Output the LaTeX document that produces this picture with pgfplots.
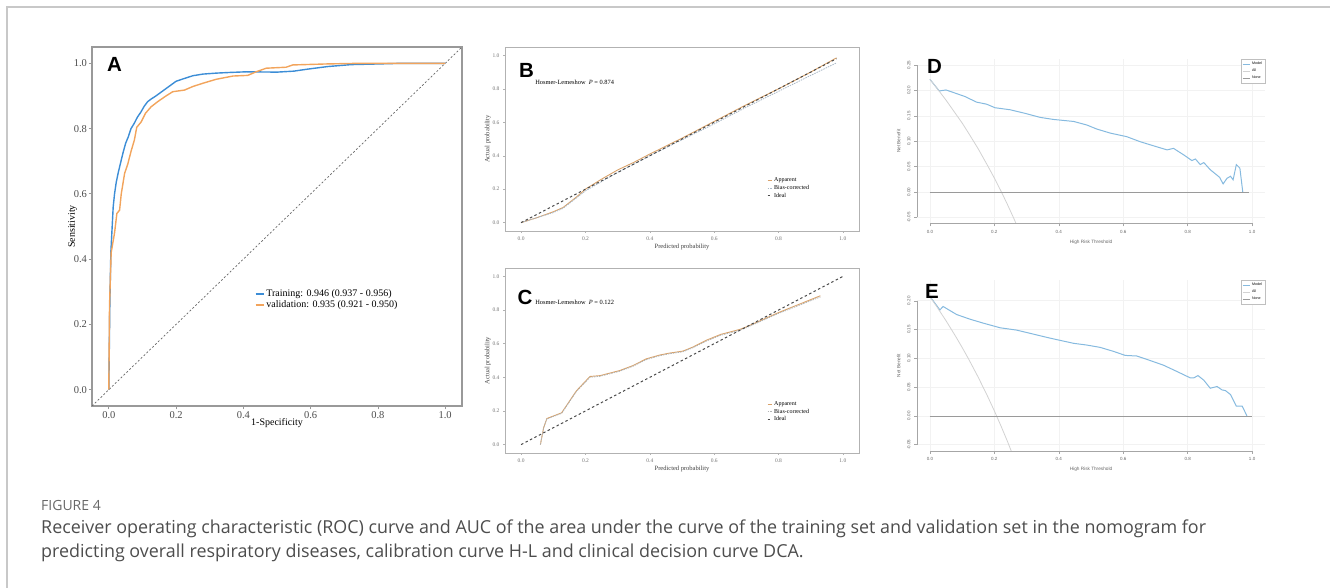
\documentclass[border=0pt]{standalone}
\usepackage{fontspec}
\setmainfont{Liberation Serif}
\setsansfont{Liberation Sans}
\newfontfamily\capfont{Open Sans}
\usepackage{pgfplots}
\pgfplotsset{compat=1.18}
\definecolor{rocblue}{HTML}{3C8DD6}
\definecolor{rocorange}{HTML}{F2A45C}
\definecolor{calapp}{HTML}{D9A26A}
\definecolor{calbias}{HTML}{A9B8C6}
\definecolor{calideal}{HTML}{4A4A4A}
\definecolor{dcamodel}{HTML}{86BADF}
\definecolor{dcaall}{HTML}{D2D2D2}
\definecolor{dcanone}{HTML}{9A9A9A}
\definecolor{capgray}{HTML}{4D4D4D}
\definecolor{framegray}{HTML}{C8C8C8}
\newcommand{\fs}[1]{\fontsize{#1}{#1}\selectfont}
\begin{document}
\begin{tikzpicture}
\path[use as bounding box] (0pt,0pt) rectangle (1330pt,588pt);
\draw[framegray, line width=1.5pt] (7pt,-2pt) -- (7pt,581pt) -- (1332pt,581pt);

% ---------------- A: ROC ----------------
\begin{axis}[at={(92pt,182pt)}, anchor=south west, scale only axis, width=370pt, height=359pt,
 xmin=-0.05,xmax=1.05,ymin=-0.05,ymax=1.05,
 xtick={0,0.2,0.4,0.6,0.8,1}, xticklabels={0.0,0.2,0.4,0.6,0.8,1.0},
 ytick={0,0.2,0.4,0.6,0.8,1}, yticklabels={0.0,0.2,0.4,0.6,0.8,1.0},
 axis line style={draw=gray!80, line width=1.2pt},
 tick style={draw=gray!80, line width=0.8pt}, tick align=outside, major tick length=3.5pt,
 xtick pos=bottom, ytick pos=left,
 ticklabel style={font=\fs{10.5}, text=black!70},
 xticklabel style={yshift=2pt}, yticklabel style={xshift=2pt},
 xlabel={1-Specificity}, ylabel={Sensitivity},
 label style={font=\fs{10}},
 xlabel style={yshift=7pt}, ylabel style={yshift=-10pt},
 legend style={at={(0.44,0.33)}, anchor=north west, draw=none, fill=none, font=\fs{10}, inner sep=0pt, row sep=-1.5pt},
 legend cell align=left,
 legend image code/.code={\draw[#1] (0pt,0pt) -- (8pt,0pt);},
]
\addplot[gray!80!black, dash pattern=on 2pt off 2pt, line width=0.7pt, forget plot] coordinates {(-0.05,-0.05) (1.05,1.05)};
\addplot[rocblue, line width=1.4pt] coordinates {
(0,0) (0.003,0.26) (0.006,0.42) (0.01,0.5) (0.013,0.56) (0.017,0.6) (0.022,0.635) (0.028,0.665)
(0.035,0.695) (0.042,0.725) (0.05,0.755) (0.058,0.775) (0.066,0.8) (0.075,0.815) (0.085,0.835)
(0.095,0.85) (0.105,0.868) (0.115,0.882) (0.125,0.89) (0.14,0.9) (0.16,0.915) (0.18,0.93)
(0.2,0.945) (0.22,0.952) (0.25,0.962) (0.28,0.967) (0.32,0.97) (0.36,0.972) (0.41,0.974)
(0.5,0.973) (0.55,0.976) (0.59,0.982) (0.65,0.99) (0.72,0.996) (0.8,0.998) (0.87,1.0) (1.0,1.0)};
\addlegendentry{Training: 0.946 (0.937 - 0.956)}
\addplot[rocorange, line width=1.4pt] coordinates {
(0,0) (0.002,0.255) (0.007,0.42) (0.017,0.48) (0.024,0.54) (0.032,0.55) (0.037,0.6) (0.047,0.663)
(0.056,0.69) (0.066,0.73) (0.076,0.765) (0.083,0.804) (0.096,0.82) (0.109,0.847) (0.126,0.867)
(0.146,0.883) (0.17,0.9) (0.19,0.913) (0.225,0.918) (0.25,0.929) (0.28,0.939) (0.319,0.951)
(0.369,0.961) (0.413,0.963) (0.438,0.974) (0.468,0.985) (0.527,0.988) (0.547,0.995) (0.646,0.998)
(0.745,1.0) (1.0,1.0)};
\addlegendentry{validation: 0.935 (0.921 - 0.950)}
\end{axis}
\node[font=\sffamily\bfseries\fs{20.5}, inner sep=0pt] at (114.5pt,523.5pt) {A};

% ---------------- B: calibration training ----------------
\begin{axis}[at={(505pt,357pt)}, anchor=south west, scale only axis, width=354pt, height=184pt,
 xmin=-0.05,xmax=1.05,ymin=-0.05,ymax=1.05,
 xtick={0,0.2,0.4,0.6,0.8,1}, xticklabels={0.0,0.2,0.4,0.6,0.8,1.0},
 ytick={0,0.2,0.4,0.6,0.8,1}, yticklabels={0.0,0.2,0.4,0.6,0.8,1.0},
 axis line style={draw=gray!60, line width=0.8pt},
 tick style={draw=gray!60, line width=0.4pt}, tick align=outside, major tick length=2pt,
 xtick pos=bottom, ytick pos=left,
 ticklabel style={font=\fs{5.5}, text=black!55},
 xlabel={Predicted probability}, ylabel={Actual probability},
 label style={font=\fs{6.5}, text=black!75},
 xlabel style={yshift=3pt}, ylabel style={yshift=-5pt},
 legend style={at={(0.74,0.3)}, anchor=north west, draw=none, fill=none, font=\fs{6}, inner sep=0pt, row sep=-2pt},
 legend cell align=left,
 legend image code/.code={\draw[#1] (0pt,0pt) -- (4pt,0pt);},
]
\addplot[calapp, line width=0.9pt] coordinates {
(0,0) (0.05,0.03) (0.1,0.065) (0.13,0.09) (0.17,0.15) (0.2,0.2) (0.25,0.26) (0.3,0.315) (0.35,0.36)
(0.4,0.41) (0.5,0.505) (0.6,0.605) (0.7,0.705) (0.8,0.8) (0.9,0.9) (0.98,0.985)};
\addlegendentry{Apparent}
\addplot[calbias, dash pattern=on 1.5pt off 1pt, line width=0.8pt] coordinates {
(0,0) (0.05,0.03) (0.1,0.06) (0.13,0.085) (0.17,0.145) (0.2,0.19) (0.3,0.3) (0.4,0.4)
(0.5,0.495) (0.6,0.59) (0.7,0.69) (0.8,0.785) (0.9,0.88) (0.98,0.955)};
\addlegendentry{Bias-corrected}
\addplot[calideal, dash pattern=on 2.5pt off 2.5pt, line width=1pt] coordinates {(0,0) (0.98,0.98)};
\addlegendentry{Ideal}
\node[anchor=west, font=\fs{6.4}, inner sep=0pt] at (rel axis cs:0.085,0.81) {Hosmer-Lemeshow\ \ \textit{P} = 0.874};
\end{axis}
\node[font=\sffamily\bfseries\fs{20.5}, inner sep=0pt] at (526.5pt,517.5pt) {B};

% ---------------- C: calibration validation ----------------
\begin{axis}[at={(505pt,135pt)}, anchor=south west, scale only axis, width=354pt, height=185pt,
 xmin=-0.05,xmax=1.05,ymin=-0.05,ymax=1.05,
 xtick={0,0.2,0.4,0.6,0.8,1}, xticklabels={0.0,0.2,0.4,0.6,0.8,1.0},
 ytick={0,0.2,0.4,0.6,0.8,1}, yticklabels={0.0,0.2,0.4,0.6,0.8,1.0},
 axis line style={draw=gray!60, line width=0.8pt},
 tick style={draw=gray!60, line width=0.4pt}, tick align=outside, major tick length=2pt,
 xtick pos=bottom, ytick pos=left,
 ticklabel style={font=\fs{5.5}, text=black!55},
 xlabel={Predicted probability}, ylabel={Actual probability},
 label style={font=\fs{6.5}, text=black!75},
 xlabel style={yshift=3pt}, ylabel style={yshift=-5pt},
 legend style={at={(0.74,0.29)}, anchor=north west, draw=none, fill=none, font=\fs{6}, inner sep=0pt, row sep=-2pt},
 legend cell align=left,
 legend image code/.code={\draw[#1] (0pt,0pt) -- (4pt,0pt);},
]
\addplot[calapp, line width=0.9pt] coordinates {
(0.06,0.0) (0.07,0.1) (0.08,0.155) (0.126,0.189) (0.172,0.32) (0.214,0.405) (0.245,0.41)
(0.306,0.44) (0.348,0.47) (0.389,0.51) (0.43,0.532) (0.461,0.544) (0.503,0.556) (0.534,0.58)
(0.575,0.62) (0.62,0.655) (0.68,0.685) (0.7,0.7) (0.8,0.785) (0.93,0.885)};
\addlegendentry{Apparent}
\addplot[calbias!80!calapp, dash pattern=on 1.5pt off 1pt, line width=0.8pt] coordinates {
(0.06,0.0) (0.07,0.1) (0.08,0.152) (0.126,0.186) (0.172,0.316) (0.214,0.4) (0.245,0.406)
(0.306,0.436) (0.348,0.466) (0.389,0.505) (0.43,0.528) (0.461,0.54) (0.503,0.552) (0.534,0.576)
(0.575,0.615) (0.62,0.65) (0.68,0.68) (0.7,0.695) (0.8,0.78) (0.93,0.878)};
\addlegendentry{Bias-corrected}
\addplot[calideal, dash pattern=on 2.5pt off 2.5pt, line width=1pt] coordinates {(0,0) (1,1)};
\addlegendentry{Ideal}
\node[anchor=west, font=\fs{6.4}, inner sep=0pt] at (rel axis cs:0.085,0.816) {Hosmer-Lemeshow\ \ \textit{P} = 0.122};
\end{axis}
\node[font=\sffamily\bfseries\fs{20.5}, inner sep=0pt] at (525pt,290.5pt) {C};

% ---------------- D: DCA training ----------------
\begin{axis}[at={(917pt,364.5pt)}, anchor=south west, scale only axis, width=348pt, height=164.5pt,
 xmin=-0.04,xmax=1.04,ymin=-0.062,ymax=0.262,
 xtick={0,0.2,0.4,0.6,0.8,1}, xticklabels={0.0,0.2,0.4,0.6,0.8,1.0},
 ytick={-0.05,0,0.05,0.1,0.15,0.2,0.25}, yticklabels={-0.05,0.00,0.05,0.10,0.15,0.20,0.25},
 axis line style={draw=none},
 grid=major, grid style={gray!10, line width=0.5pt},
 tick style={draw=gray!70, line width=0.4pt}, tick align=outside, major tick length=3pt,
 xtick pos=bottom, ytick pos=left,
 xticklabel style={font=\sffamily\fs{4.5}, text=black!60},
 yticklabel style={font=\sffamily\fs{4.5}, text=black!60, rotate=90, anchor=south},
 xlabel={High Risk Threshold}, ylabel={Net Benefit},
 label style={font=\sffamily\fs{4.7}, text=black!60},
 legend style={at={(1,1)}, anchor=north east, draw=gray!50, line width=0.3pt, fill=white, font=\sffamily\fs{3.6}, inner sep=1pt, row sep=-1pt},
 legend cell align=left,
 legend image code/.code={\draw[#1] (0pt,0pt) -- (7pt,0pt);},
 clip mode=individual,
]
\addplot[dcamodel, line width=1pt] coordinates {
(0,0.222) (0.029,0.199) (0.05,0.201) (0.073,0.196) (0.109,0.188) (0.145,0.177) (0.176,0.173)
(0.202,0.166) (0.249,0.162) (0.295,0.155) (0.342,0.147) (0.383,0.143) (0.446,0.139) (0.487,0.132)
(0.518,0.124) (0.56,0.116) (0.611,0.109) (0.653,0.099) (0.694,0.091) (0.736,0.083) (0.756,0.086)
(0.788,0.073) (0.813,0.062) (0.824,0.065) (0.839,0.054) (0.85,0.058) (0.87,0.044) (0.899,0.029)
(0.91,0.016) (0.922,0.027) (0.933,0.031) (0.941,0.024) (0.951,0.054) (0.962,0.047) (0.971,0.0)};
\addlegendentry{Model}
\addplot[dcaall, line width=0.8pt] coordinates {
(0,0.222) (0.02,0.206) (0.05,0.181) (0.08,0.154) (0.1,0.136) (0.12,0.116) (0.15,0.085)
(0.18,0.051) (0.2,0.0275) (0.22,0.0026) (0.24,-0.0237) (0.26,-0.0514) (0.28,-0.0805)};
\addlegendentry{All}
\addplot[dcanone, line width=0.7pt] coordinates {(0,0) (0.99,0)};
\addlegendentry{None}
\draw[gray!70, line width=0.5pt] (axis cs:0,-0.062) -- (axis cs:1,-0.062);
\draw[gray!70, line width=0.5pt] (axis cs:-0.04,-0.05) -- (axis cs:-0.04,0.25);
\end{axis}
\node[font=\sffamily\bfseries\fs{20.5}, inner sep=0pt] at (934.5pt,521.5pt) {D};

% ---------------- E: DCA validation ----------------
\begin{axis}[at={(917pt,137pt)}, anchor=south west, scale only axis, width=348pt, height=171pt,
 xmin=-0.04,xmax=1.04,ymin=-0.061,ymax=0.236,
 xtick={0,0.2,0.4,0.6,0.8,1}, xticklabels={0.0,0.2,0.4,0.6,0.8,1.0},
 ytick={-0.05,0,0.05,0.1,0.15,0.2}, yticklabels={-0.05,0.00,0.05,0.10,0.15,0.20},
 axis line style={draw=none},
 grid=major, grid style={gray!10, line width=0.5pt},
 tick style={draw=gray!70, line width=0.4pt}, tick align=outside, major tick length=3pt,
 xtick pos=bottom, ytick pos=left,
 xticklabel style={font=\sffamily\fs{4.5}, text=black!60},
 yticklabel style={font=\sffamily\fs{4.5}, text=black!60, rotate=90, anchor=south},
 xlabel={High Risk Threshold}, ylabel={Net Benefit},
 label style={font=\sffamily\fs{4.7}, text=black!60},
 legend style={at={(1,1)}, anchor=north east, draw=gray!50, line width=0.3pt, fill=white, font=\sffamily\fs{3.6}, inner sep=1pt, row sep=-1pt},
 legend cell align=left,
 legend image code/.code={\draw[#1] (0pt,0pt) -- (7pt,0pt);},
 clip mode=individual,
]
\addplot[dcamodel, line width=1pt] coordinates {
(0,0.2076) (0.031,0.184) (0.041,0.19) (0.083,0.176) (0.124,0.168) (0.166,0.161) (0.218,0.153)
(0.269,0.149) (0.321,0.142) (0.373,0.135) (0.446,0.126) (0.487,0.123) (0.528,0.119) (0.57,0.112)
(0.606,0.105) (0.642,0.104) (0.674,0.098) (0.725,0.088) (0.767,0.077) (0.808,0.066) (0.819,0.066)
(0.832,0.07) (0.85,0.062) (0.87,0.048) (0.891,0.051) (0.907,0.045) (0.917,0.044) (0.933,0.037)
(0.951,0.017) (0.969,0.017) (0.984,0.0)};
\addlegendentry{Model}
\addplot[dcaall, line width=0.8pt] coordinates {
(0,0.207) (0.02,0.1908) (0.05,0.1653) (0.08,0.138) (0.1,0.1189) (0.12,0.0989) (0.15,0.0671)
(0.18,0.0329) (0.2,0.0087) (0.22,-0.0167) (0.24,-0.0434) (0.26,-0.0716)};
\addlegendentry{All}
\addplot[dcanone, line width=0.7pt] coordinates {(0,0) (1.0,0)};
\addlegendentry{None}
\draw[gray!70, line width=0.5pt] (axis cs:0,-0.061) -- (axis cs:1,-0.061);
\draw[gray!70, line width=0.5pt] (axis cs:-0.04,-0.05) -- (axis cs:-0.04,0.2);
\end{axis}
\node[font=\sffamily\bfseries\fs{20.5}, inner sep=0pt] at (932pt,297pt) {E};

% ---------------- caption ----------------
\node[anchor=base west, inner sep=0pt, font=\capfont\fs{14}, text=capgray!85] at (41pt,77pt) {FIGURE 4};
\node[anchor=base west, inner sep=0pt, font=\capfont\fs{17.9}, text=capgray] at (41pt,54.5pt) {Receiver operating characteristic (ROC) curve and AUC of the area under the curve of the training set and validation set in the nomogram for};
\node[anchor=base west, inner sep=0pt, font=\capfont\fs{17.9}, text=capgray] at (41pt,30pt) {predicting overall respiratory diseases, calibration curve H-L and clinical decision curve DCA.};
\end{tikzpicture}
\end{document}
